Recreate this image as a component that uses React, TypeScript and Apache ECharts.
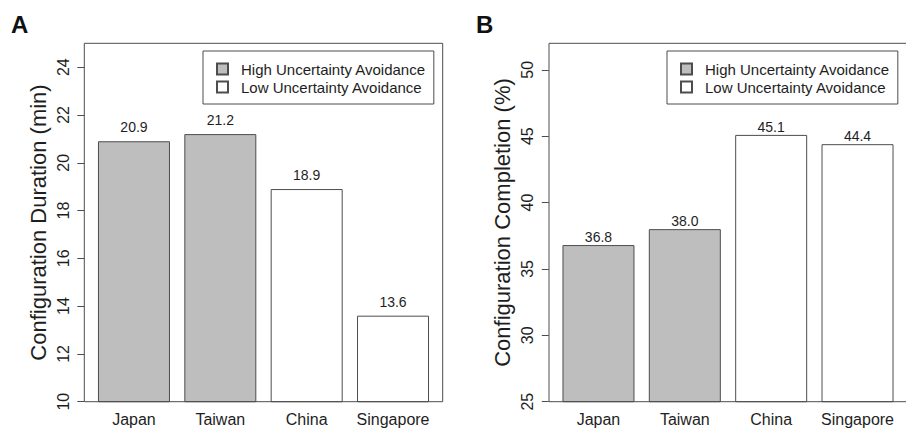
import React, { useEffect, useRef } from "react";
import * as echarts from "echarts";

const categories = ["Japan", "Taiwan", "China", "Singapore"];
const groups = ["High", "High", "Low", "Low"];
const durationValues = [20.9, 21.2, 18.9, 13.6];
const completionValues = [36.8, 38.0, 45.1, 44.4];
const durationTicks = [10, 12, 14, 16, 18, 20, 22, 24];
const completionTicks = [25, 30, 35, 40, 45, 50];
const HIGH = "High Uncertainty Avoidance";
const LOW = "Low Uncertainty Avoidance";

const FONT = "'Liberation Sans', Arial, Helvetica, sans-serif";
const TXT = "#1e1e1e";
const LINE = "#4d4d4d";

function split(values: number[], g: string) {
  return values.map((v, i) => (groups[i] === g ? v : "-"));
}

export default function App() {
  const ref = useRef<HTMLDivElement>(null);
  useEffect(() => {
    if (!ref.current) return;
    const chart = echarts.init(ref.current, null, { renderer: "svg" });

    const yAxisBase = (min: number, max: number, interval: number, ticks: number[], name: string, nameGap: number) => ({
      type: "value",
      min,
      max,
      interval,
      offset: 6.5,
      name,
      nameLocation: "middle",
      nameRotate: 90,
      nameGap,
      nameTextStyle: { fontSize: 22, color: TXT, fontFamily: FONT },
      axisLine: { show: false },
      axisTick: { show: true, length: 7, lineStyle: { color: LINE }, customValues: ticks },
      axisLabel: {
        customValues: ticks,
        rotate: 90,
        fontSize: 16,
        color: TXT,
        fontFamily: FONT,
        margin: 13,
      },
      splitLine: { show: false },
    });

    const xAxisBase = (gridIndex: number) => ({
      type: "category",
      gridIndex,
      data: categories,
      axisLine: { show: false },
      axisTick: { show: false },
      axisLabel: { interval: 0, fontSize: 16, color: TXT, fontFamily: FONT, margin: 10 },
    });

    const barSeries = (name: string, values: number[], g: string, idx: number, color: string, dist: number) => ({
      type: "bar",
      name,
      xAxisIndex: idx,
      yAxisIndex: idx,
      data: split(values, g),
      barWidth: 72,
      barGap: "-100%",
      clip: true,
      itemStyle: { color, borderColor: LINE, borderWidth: 1 },
      label: {
        show: true,
        position: "top",
        distance: dist,
        fontSize: 14,
        color: TXT,
        fontFamily: FONT,
        formatter: (p: any) => Number(p.value).toFixed(1),
      },
    });

    const legendBase = (left: number) => ({
      data: [HIGH, LOW],
      orient: "vertical",
      left,
      top: 51,
      padding: [9, 8, 8, 13],
      itemGap: 0,
      itemWidth: 11,
      itemHeight: 11,
      icon: "rect",
      borderColor: LINE,
      borderWidth: 1,
      selectedMode: false,
      textStyle: { fontSize: 15, lineHeight: 18, color: TXT, fontFamily: FONT, padding: [0, 0, 0, 8] },
    });

    chart.setOption({
      animation: false,
      backgroundColor: "#ffffff",
      textStyle: { fontFamily: FONT },
      title: [
        { text: "A", left: 6, top: 7, textStyle: { fontSize: 24, fontWeight: "bold", color: "#111", fontFamily: FONT } },
        { text: "B", left: 471, top: 7, textStyle: { fontSize: 24, fontWeight: "bold", color: "#111", fontFamily: FONT } },
      ],
      legend: [legendBase(203), legendBase(667)],
      grid: [
        { left: 90.8, width: 345.4, top: 43.3, height: 358.4 },
        { left: 555.3, width: 345.4, top: 43.3, height: 358.4 },
      ],
      xAxis: [xAxisBase(0), xAxisBase(1)],
      yAxis: [
        { ...yAxisBase(10, 25, 2, durationTicks, "Configuration Duration (min)", 35), gridIndex: 0 },
        { ...yAxisBase(25, 52, 5, completionTicks, "Configuration Completion (%)", 35), gridIndex: 1 },
      ],
      series: [
        barSeries(HIGH, durationValues, "High", 0, "#bebebe", 7),
        barSeries(LOW, durationValues, "Low", 0, "#ffffff", 7),
        barSeries(HIGH, completionValues, "High", 1, "#bebebe", 1),
        barSeries(LOW, completionValues, "Low", 1, "#ffffff", 1),
      ],
      graphic: [
        {
          type: "rect",
          z: 100,
          silent: true,
          shape: { x: 84.3, y: 43.3, width: 358.4, height: 358.4 },
          style: { fill: "none", stroke: LINE, lineWidth: 1 },
        },
        {
          type: "rect",
          z: 100,
          silent: true,
          shape: { x: 549, y: 43.3, width: 358.4, height: 358.4 },
          style: { fill: "none", stroke: LINE, lineWidth: 1 },
        },
      ],
    });
    return () => chart.dispose();
  }, []);
  return (
    <div
      ref={ref}
      style={{ position: "absolute", left: 0, top: 0, width: 906, height: 432, background: "#fff" }}
    />
  );
}
